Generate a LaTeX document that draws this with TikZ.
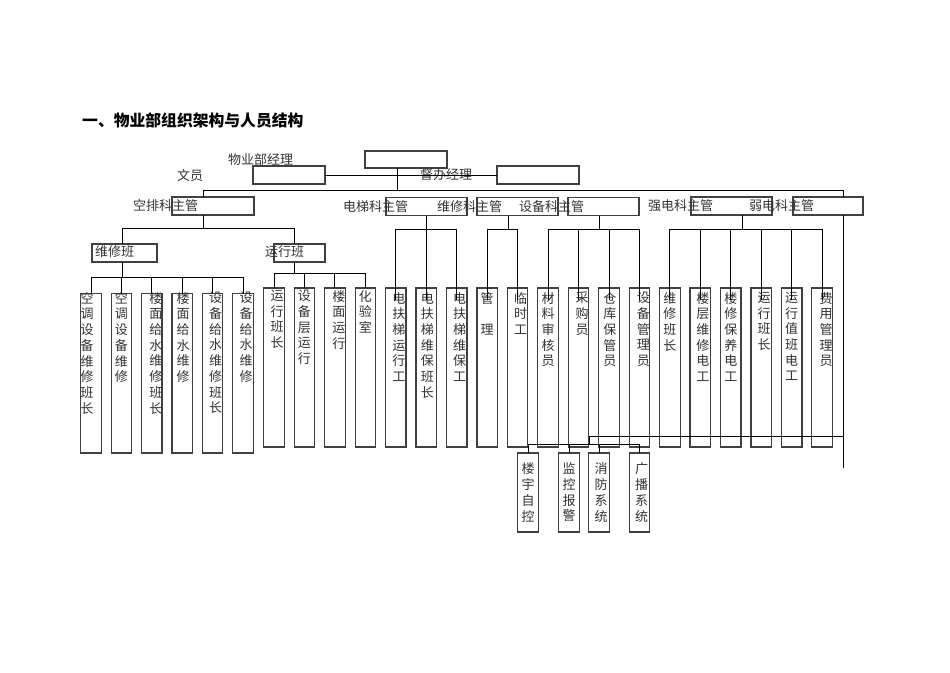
\documentclass[tikz,border=0pt]{standalone}
\usepackage{fontspec}
\setmainfont{Noto Sans CJK SC}
\newcommand\bx[5]{\node[box,minimum width=#4pt,minimum height=#5pt] (#1) at (#2,#3) {};}
\newcommand\cbx[7]{\node[box,minimum width=20.5pt,minimum height=#4pt] (#1) at (#2,#3) {};
  \node[vtext,anchor=north] at ([xshift=#5pt,yshift=#6pt]#1.north) {#7};}
\begin{document}
\begin{tikzpicture}[x=1pt,y=-1pt,
  box/.style={draw=black!75,line width=1.2pt,inner sep=0pt,outer sep=0pt},
  conn/.style={draw=black,line width=0.9pt},
  lbl/.style={anchor=west,inner sep=0pt,text=black!80,font=\fontsize{13}{15.7}\selectfont},
  vtext/.style={inner sep=0pt,align=center,text=black!80,font=\fontsize{13}{15.7}\selectfont}]
\useasboundingbox[fill=white] (0,0) rectangle (950,672);

% title
\node[anchor=west,inner sep=0pt,font=\fontsize{15.8}{18}\selectfont\bfseries] (title) at (82,121) {一、物业部组织架构与人员结构};

% manager level boxes
\bx{top}{406}{159.5}{82}{17}
\bx{wenyuan}{289}{175}{72}{18}
\bx{duban}{538}{175}{82}{18}
\bx{kongpai}{213}{206}{82}{18}
\bx{dianti}{426.5}{206.5}{81}{18}
\bx{weixiuke}{517.5}{206.5}{81}{18}
\bx{shebeike}{603.5}{206.5}{71}{18}
\bx{qiangdian}{731.5}{206}{81}{18}
\bx{ruodian}{828}{206}{70}{18}
\bx{weixiuban}{124.5}{253}{65}{18}
\bx{yunxingban}{299.5}{253}{51}{18}

% labels
\node[lbl] (l0) at (228,160) {物业部经理};
\node[lbl] (l1) at (177,176) {文员};
\node[lbl] (l2) at (420,175) {督办经理};
\node[lbl] (l3) at (133,206) {空排科主管};
\node[lbl] (l4) at (343,207) {电梯科主管};
\node[lbl] (l5) at (437,207) {维修科主管};
\node[lbl] (l6) at (519,207) {设备科主管};
\node[lbl] (l7) at (648,206) {强电科主管};
\node[lbl] (l8) at (749,206) {弱电科主管};
\node[lbl] (l9) at (95,252) {维修班};
\node[lbl] (l10) at (265,252) {运行班};

% group A (维修班)
\cbx{a1}{91}{373.25}{159.5}{-4}{1.5}{空\\调\\设\\备\\维\\修\\班\\长}
\cbx{a2}{121.4}{373.25}{159.5}{0}{1.5}{空\\调\\设\\备\\维\\修}
\cbx{a3}{151.8}{373.25}{159.5}{4}{1.5}{楼\\面\\给\\水\\维\\修\\班\\长}
\cbx{a4}{182.2}{373.25}{159.5}{1}{1.5}{楼\\面\\给\\水\\维\\修}
\cbx{a5}{212.6}{373.25}{159.5}{3}{1.5}{设\\备\\给\\水\\维\\修\\班\\长}
\cbx{a6}{243}{373.25}{159.5}{3}{1.5}{设\\备\\给\\水\\维\\修}

% group B (运行班)
\cbx{b1}{274}{367.5}{159}{3}{-2}{运\\行\\班\\长}
\cbx{b2}{304.45}{367.5}{159}{0}{-2}{设\\备\\层\\运\\行}
\cbx{b3}{334.9}{367.5}{159}{4}{-2}{楼\\面\\运\\行}
\cbx{b4}{365.35}{367.5}{159}{0}{-2}{化\\验\\室}

% 电梯
\cbx{c1}{395.8}{367.5}{159}{3}{-4}{电\\扶\\梯\\运\\行\\工}
\cbx{c2}{426.25}{367.5}{159}{1}{-4}{电\\扶\\梯\\维\\保\\班\\长}
\cbx{c3}{456.7}{367.5}{159}{3}{-4}{电\\扶\\梯\\维\\保\\工}
% 维修科
\cbx{d1}{487.15}{367.5}{159}{0}{-4}{管\\\mbox{}\\理}
\cbx{d2}{517.6}{367.5}{159}{3}{-4}{临\\时\\工}
% 设备科
\cbx{e1}{548.05}{367.5}{159}{0}{-4}{材\\料\\审\\核\\员}
\cbx{e2}{578.5}{367.5}{159}{3.5}{-4}{采\\购\\员}
\cbx{e3}{608.95}{367.5}{159}{1}{-4}{仓\\库\\保\\管\\员}
\cbx{e4}{639.4}{367.5}{159}{4}{-4}{设\\备\\管\\理\\员}
% 强电
\cbx{f1}{669.85}{367.5}{159}{0}{-4}{维\\修\\班\\长}
\cbx{f2}{700.3}{367.5}{159}{2.5}{-4}{楼\\层\\维\\修\\电\\工}
\cbx{f3}{730.75}{367.5}{159}{0}{-4}{楼\\修\\保\\养\\电\\工}
\cbx{f4}{761.2}{367.5}{159}{3}{-4}{运\\行\\班\\长}
\cbx{f5}{791.65}{367.5}{159}{0}{-4}{运\\行\\值\\班\\电\\工}
\cbx{f6}{822.1}{367.5}{159}{4}{-4}{费\\用\\管\\理\\员}

% bottom boxes
\node[box,minimum width=20.5pt,minimum height=79pt] (g1) at (528,492.5) {};
\node[box,minimum width=20.5pt,minimum height=79pt] (g2) at (569,492.5) {};
\node[box,minimum width=20.5pt,minimum height=79pt] (g3) at (599,492.5) {};
\node[box,minimum width=20.5pt,minimum height=79pt] (g4) at (639.5,492.5) {};
\node[vtext] at (g1.center) {楼\\宇\\自\\控};
\node[vtext] at (g2.center) {监\\控\\报\\警};
\node[vtext] at ([xshift=2pt]g3.center) {消\\防\\系\\统};
\node[vtext] at ([xshift=2pt]g4.center) {广\\播\\系\\统};

% connectors: top
\draw[conn] (top.south -| 397,0) -- (397,190);
\draw[conn] (wenyuan.east) -- (duban.west);
\coordinate (busL) at (203,190);
\coordinate (busR) at (843,190);
\draw[conn] (kongpai.north -| busL) -- (busL) -- (busR) -- (ruodian.north -| busR);
\coordinate (tail) at (843,468);
\draw[conn] (ruodian.south -| tail) -- (tail);

% 空排
\draw[conn] (kongpai.south -| 203,0) -- (203,228);
\draw[conn] (weixiuban.north -| 122,0) -- (122,228) -- (294,228) -- (yunxingban.north -| 294,0);
% 维修班
\draw[conn] (weixiuban.south -| 122,0) -- (122,277);
\draw[conn] (a1.north) -- (a1.north |- 0,277) -- (a6.north |- 0,277) -- (a6.north);
\foreach \n in {a2,a3,a4,a5} \draw[conn] (\n.north) -- (\n.north |- 0,277);
% 运行班
\draw[conn] (yunxingban.south -| 294,0) -- (294,273);
\draw[conn] (b1.north) -- (b1.north |- 0,273) -- (b4.north |- 0,273) -- (b4.north);
\foreach \n in {b2,b3} \draw[conn] (\n.north) -- (\n.north |- 0,273);
% 电梯
\draw[conn] (dianti.south -| c2.north) -- ([yshift=-12pt]c2.north);
\draw[conn] ([yshift=-12pt]c1.north) -- (c1.north |- 0,229) -- (c3.north |- 0,229) -- ([yshift=-12pt]c3.north);
% 维修科
\draw[conn] (weixiuke.south -| 508,0) -- (508,229);
\draw[conn] ([yshift=-12pt]d1.north) -- (d1.north |- 0,229) -- (d2.north |- 0,229) -- ([yshift=-12pt]d2.north);
% 设备科
\draw[conn] (shebeike.south -| 599,0) -- (599,229);
\draw[conn] ([yshift=-12pt]e1.north) -- (e1.north |- 0,229) -- (e4.north |- 0,229) -- ([yshift=-12pt]e4.north);
\foreach \n in {e2,e3} \draw[conn] ([yshift=-12pt]\n.north) -- (\n.north |- 0,229);
% 强电
\draw[conn] (qiangdian.south -| 742,0) -- (742,229);
\draw[conn] ([yshift=-12pt]f1.north) -- (f1.north |- 0,229) -- (f6.north |- 0,229) -- ([yshift=-12pt]f6.north);
\foreach \n in {f2,f3,f4,f5} \draw[conn] ([yshift=-12pt]\n.north) -- (\n.north |- 0,229);
% bottom
\draw[conn] (tail |- 0,436) -- (589,436) -- (589,444);
\draw[conn] (g1.north) -- (g1.north |- 0,444) -- (g4.north |- 0,444) -- (g4.north);
\foreach \n in {g2,g3} \draw[conn] (\n.north) -- (\n.north |- 0,444);
\end{tikzpicture}
\end{document}
